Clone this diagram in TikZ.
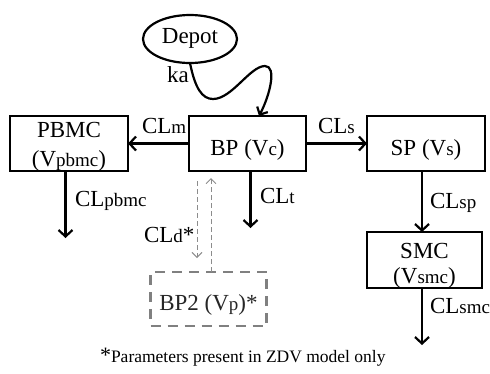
\documentclass[tikz,border=0pt]{standalone}
\usepackage{fontspec}
\setmainfont{Liberation Serif}
\usetikzlibrary{arrows.meta,shapes.geometric}
\newcommand{\sbs}[1]{{\fontsize{19}{20}\selectfont #1}}
\begin{document}
\begin{tikzpicture}[x=1pt,y=-1pt,
  every node/.style={inner sep=0pt,outer sep=0pt},
  txt/.style={font=\fontsize{23}{25}\selectfont,anchor=base},
  lbl/.style={font=\fontsize{23}{25}\selectfont,anchor=base west},
  box/.style={draw=black,line width=2.2pt,rectangle},
  flow/.style={line width=2.2pt,-{Straight Barb[length=6.5pt,width=14pt,line width=2.2pt]}},
  dflow/.style={draw=gray!90,line width=0.9pt,dash pattern=on 5pt off 3pt,-{Straight Barb[length=5pt,width=10pt,line width=0.9pt]}},
  dbox/.style={draw=gray,line width=2.2pt,dash pattern=on 10pt off 7pt,rectangle}]
\useasboundingbox (0,0) rectangle (490,373);
% boxes
\node[box,minimum width=118pt,minimum height=55pt] (pbmc) at (69,143.5) {};
\node[box,minimum width=117pt,minimum height=55pt] (bp) at (247.5,143.5) {};
\node[box,minimum width=118pt,minimum height=55pt] (sp) at (426,143.5) {};
\node[box,minimum width=115pt,minimum height=56pt] (smc) at (424.5,260) {};
\node[dbox,minimum width=116pt,minimum height=54pt] (bp2) at (208.5,299) {};
\node[draw=black,line width=2.2pt,ellipse,minimum width=94pt,minimum height=48pt] (depot) at (190,39) {};
% box texts
\node[txt] (tdepot) at (190,43) {Depot};
\node[txt] (tpbmc1) at (69,137) {PBMC};
\node[txt] (tpbmc2) at (69,166) {(V\sbs{pbmc})};
\node[txt] (tbp) at (247.5,155) {BP (V\sbs{c})};
\node[txt] (tsp) at (426,155) {SP (V\sbs{s})};
\node[txt] (tsmc1) at (424.5,258) {SMC};
\node[txt] (tsmc2) at (424.5,283) {(V\sbs{smc})};
\node[txt,text=black!85] (tbp2) at (208.5,310) {BP2 (V\sbs{p})*};
% coordinates for free ends
\coordinate (e1) at (65.5,238);
\coordinate (e2) at (250.5,228);
\coordinate (e3) at (422,345);
\coordinate (ka1) at (213,99);
\coordinate (ka2) at (265,66);
% arrows
\draw[flow] (bp.west) -- (pbmc.east);
\draw[flow] (bp.east) -- (sp.west);
\draw[flow] (pbmc.south -| e1) -- (e1);
\draw[flow] (bp.south -| e2) -- (e2);
\draw[flow] (sp.south -| e3) -- (smc.north -| e3);
\draw[flow] (smc.south -| e3) -- (e3);
\draw[dflow] (197,181) -- (197,258);
\draw[dflow] (bp2.north -| 211,0) -- (211,178);
\draw[line width=2.2pt,-{Straight Barb[length=6pt,width=12pt,line width=2.2pt]}]
  (depot.south) .. controls (195,88) and (202,99) .. (ka1)
  .. controls (232,99) and (250,66) .. (ka2)
  .. controls (277,66) and (270,95) .. (bp.north -| 259,0);
% labels
\node[lbl] (lka) at (167,82) {ka};
\node[lbl] (lclm) at (142,133) {CL\sbs{m}};
\node[lbl] (lcls) at (318,133) {CL\sbs{s}};
\node[lbl] (lclt) at (260,203) {CL\sbs{t}};
\node[lbl] (lclsp) at (430,208) {CL\sbs{sp}};
\node[lbl] (lclpbmc) at (75,206) {CL\sbs{pbmc}};
\node[lbl] (lcld) at (144,242) {CL\sbs{d}*};
\node[lbl] (lclsmc) at (430,313) {CL\sbs{smc}};
\node[anchor=base west] (note) at (100,362) {\fontsize{22}{24}\selectfont *\fontsize{17.5}{19}\selectfont Parameters present in ZDV model only};
\end{tikzpicture}
\end{document}
